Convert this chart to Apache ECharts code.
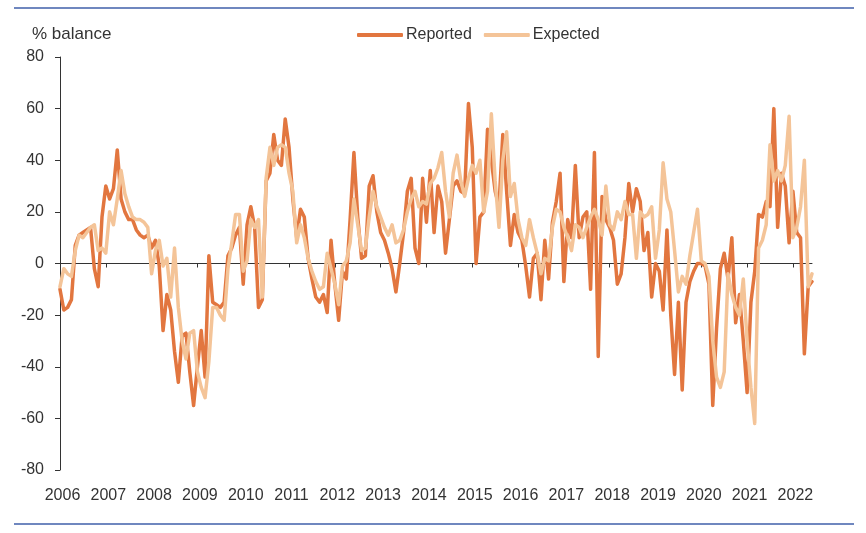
<!DOCTYPE html>
<html>
<head>
<meta charset="utf-8">
<script src="https://cdn.jsdelivr.net/npm/echarts@6/dist/echarts.min.js"></script>
<style>
html,body{margin:0;padding:0;background:#fff;}
#chart{width:866px;height:533px;}
</style>
</head>
<body>
<div id="chart"></div>
<script>
// Monthly categories Jan 2006 .. Jun 2022
const startYear = 2006;
const months = [];
for (let i = 0; i < 198; i++) {
  const y = startYear + Math.floor(i / 12);
  const m = (i % 12) + 1;
  months.push(y + '-' + (m < 10 ? '0' + m : m));
}

const reported = [
  // 2006
  -10, -18, -17, -14, 7, 11, 12, 13, 14, -2, -9, 18,
  // 2007
  30, 25, 29, 44, 25, 20, 17, 17, 13, 11, 10, 11,
  // 2008
  6, 9, -1, -26, -12, -18, -34, -46, -28, -27, -42, -55,
  // 2009
  -40, -26, -44, 3, -15, -16, -17, -15, 3, 6, 11, 14,
  // 2010
  -8, 15, 22, 14, -17, -14, 32, 35, 50, 40, 38, 56,
  // 2011
  45, 25, 10, 21, 18, 2, -6, -13, -15, -12, -19, 9,
  // 2012
  -8, -22, -3, -6, 17, 43, 18, 2, 3, 30, 34, 20,
  // 2013
  12, 9, 4, -2, -11, 0, 12, 28, 33, 6, 0, 33,
  // 2014
  16, 36, 12, 30, 24, 4, 17, 30, 32, 28, 27, 62,
  // 2015
  45, 0, 18, 20, 52, 40, 28, 22, 50, 28, 7, 19,
  // 2016
  12, 9, -1, -13, 2, 4, -14, 9, -6, 16, 24, 35,
  // 2017
  -7, 17, 10, 38, 10, 18, 20, -10, 43, -36, 26, 17,
  // 2018
  14, 9, -8, -4, 10, 31, 20, 29, 24, 5, 12, -13,
  // 2019
  0, -3, -18, 13, -20, -43, -15, -49, -15, -7, -3, 0,
  // 2020
  0, -1, -8, -55, -25, -2, 4, -6, 10, -23, -12, -30,
  // 2021
  -50, -15, -3, 19, 18, 24, 22, 60, 14, 35, 30, 8,
  // 2022
  28, 12, 10, -35, -9, -7
];

const expected = [
  // 2006
  -9, -2, -4, -5, 5, 11, 10, 12, 14, 15, 5, 6,
  // 2007
  4, 20, 15, 25, 36, 27, 22, 18, 17, 17, 16, 14,
  // 2008
  -4, 5, 9, -1, 2, -13, 6, -17, -30, -37, -27, -26,
  // 2009
  -42, -48, -52, -38, -17, -17, -20, -22, -2, 8, 19, 19,
  // 2010
  -3, 1, 17, 14, 17, -13, 33, 45, 38, 45, 46, 45,
  // 2011
  35, 28, 8, 15, 10, 2, -3, -7, -10, -9, 4, -2,
  // 2012
  -8, -16, -1, 1, 8, 25, 15, 5, 6, 18, 28, 22,
  // 2013
  18, 14, 11, 15, 8, 9, 13, 20, 25, 28, 22, 24,
  // 2014
  23, 31, 33, 37, 43, 28, 18, 35, 42, 32, 26, 33,
  // 2015
  38, 35, 40, 20, 28, 58, 32, 14, 40, 51, 26, 31,
  // 2016
  17, 10, 7, 17, 10, 4, -4, 2, 1, 14, 21, 20,
  // 2017
  14, 10, 5, 15, 14, 10, 14, 18, 21, 17, 11, 30,
  // 2018
  15, 13, 20, 17, 24, 19, 19, 2, 20, 18, 19, 22,
  // 2019
  2, 13, 39, 25, 20, 5, -11, -5, -8, 3, 12, 21,
  // 2020
  1, 0, -5, -30, -44, -48, -42, -4, -12, -17, -20, -6,
  // 2021
  -30, -48, -62, 6, 9, 15, 46, 32, 36, 32, 38, 57,
  // 2022
  10, 14, 22, 40, -9, -4
];

const yTicks = { min: -80, max: 80, interval: 20 };

const chart = echarts.init(document.getElementById('chart'), null, { renderer: 'canvas' });
const textColor = '#333';
const font = 'Liberation Sans, Arial, sans-serif';

chart.setOption({
  animation: false,
  backgroundColor: '#fff',
  textStyle: { fontFamily: font },
  title: {
    text: '% balance',
    left: 27, top: 21,
    textStyle: { fontSize: 17, fontWeight: 'normal', color: textColor, fontFamily: font }
  },
  legend: {
    left: 352, top: 22,
    itemWidth: 46, itemHeight: 4, itemGap: 12,
    icon: 'roundRect',
    textStyle: { fontSize: 16, color: textColor, fontFamily: font, padding: [0, 0, 0, -2] },
    data: ['Reported', 'Expected']
  },
  grid: { left: 60, right: 54, top: 57, bottom: 63 },
  xAxis: [
    {
      type: 'category', data: months, boundaryGap: false,
      axisLine: { onZero: true, lineStyle: { color: '#333', width: 1 } },
      axisTick: { show: true, length: 4, interval: (i) => i % 12 === 0 && i > 0, lineStyle: { color: '#333' } },
      axisLabel: { show: false },
      splitLine: { show: false }
    },
    {
      type: 'category', data: months, boundaryGap: false, position: 'bottom',
      axisLine: { show: false, onZero: false },
      axisTick: { show: false },
      axisLabel: {
        interval: (i) => i % 12 === 0,
        formatter: (v) => v.slice(0, 4),
        fontSize: 16, color: textColor, margin: 18, fontFamily: font,
        padding: [0, 0, 0, 5]
      },
      splitLine: { show: false }
    }
  ],
  yAxis: {
    type: 'value', min: yTicks.min, max: yTicks.max, interval: yTicks.interval,
    axisLine: { show: true, lineStyle: { color: '#333', width: 1 } },
    axisTick: { show: true, length: 5, lineStyle: { color: '#333' } },
    axisLabel: { fontSize: 16, color: textColor, margin: 16, fontFamily: font },
    splitLine: { show: false }
  },
  graphic: [
    { type: 'line', shape: { x1: 14, y1: 8, x2: 854, y2: 8 }, style: { stroke: '#6F87BF', lineWidth: 2 }, silent: true },
    { type: 'line', shape: { x1: 14, y1: 524, x2: 854, y2: 524 }, style: { stroke: '#6F87BF', lineWidth: 2 }, silent: true }
  ],
  series: [
    {
      name: 'Reported', type: 'line', data: reported, xAxisIndex: 0,
      showSymbol: false, symbol: 'none',
      itemStyle: { color: '#E2763F' },
      lineStyle: { color: '#E2763F', width: 3.5, cap: 'round', join: 'round' }
    },
    {
      name: 'Expected', type: 'line', data: expected, xAxisIndex: 0,
      showSymbol: false, symbol: 'none',
      itemStyle: { color: '#F4C498' },
      lineStyle: { color: '#F4C498', width: 3.5, cap: 'round', join: 'round' }
    }
  ]
});
</script>
</body>
</html>
